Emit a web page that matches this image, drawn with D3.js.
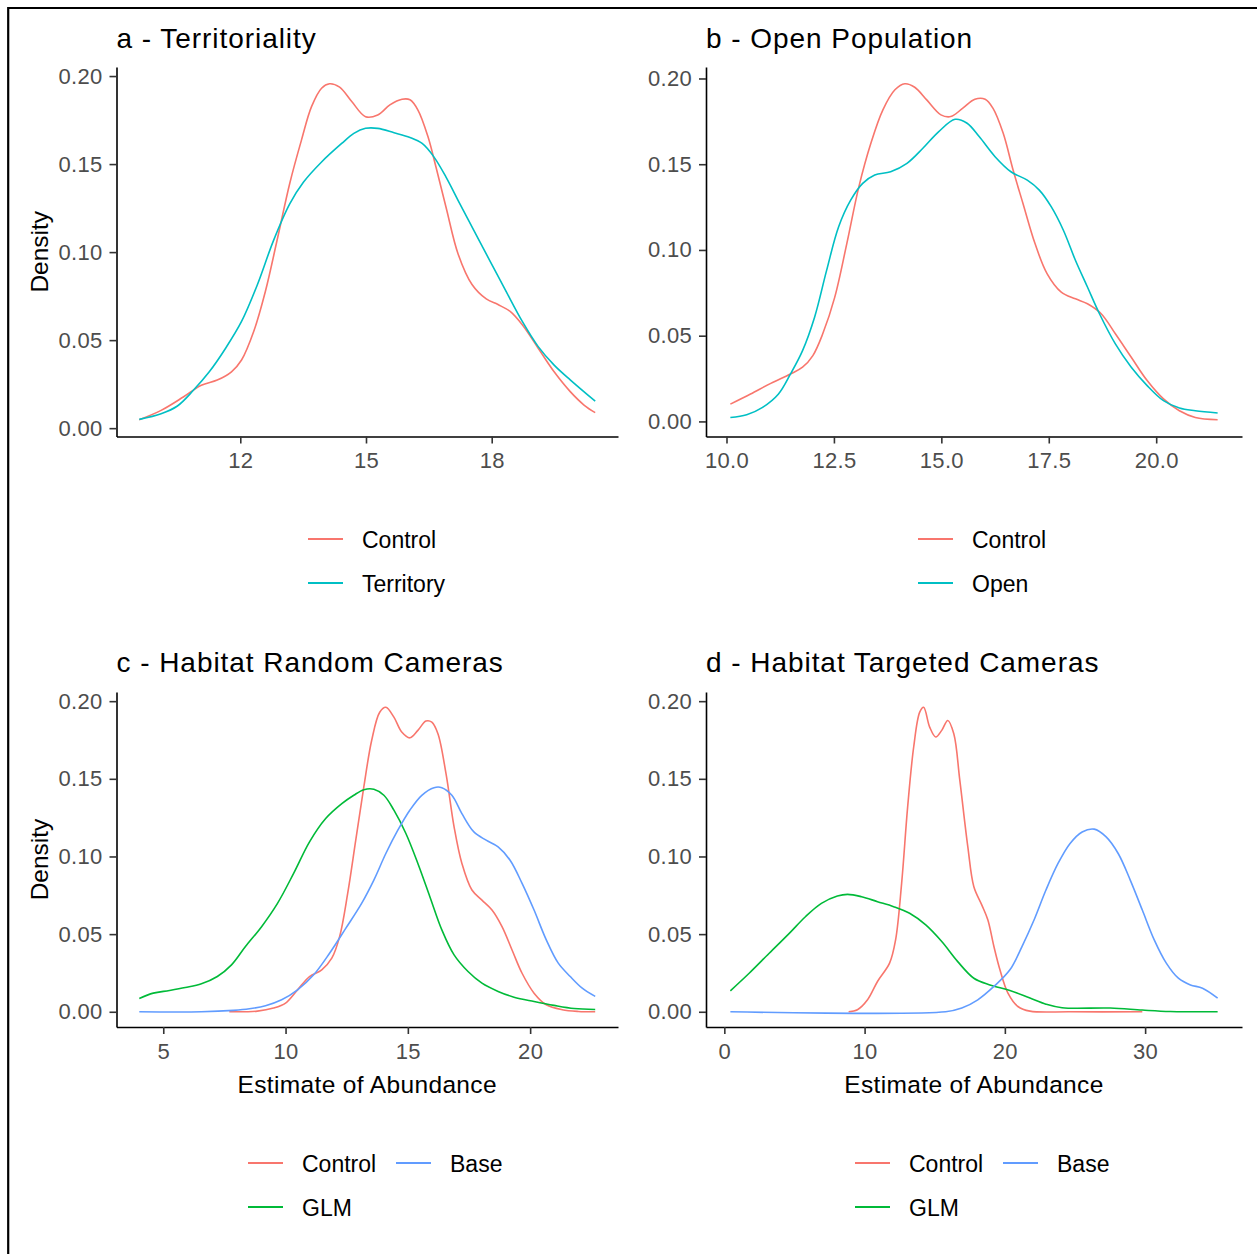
<!DOCTYPE html>
<html>
<head>
<meta charset="utf-8">
<script src="https://cdn.jsdelivr.net/npm/d3@7"></script>
<style>
  body { margin: 0; background: #fff; }
  svg text { font-family: "Liberation Sans", Arial, sans-serif; }
</style>
</head>
<body>
<svg id="chart" width="1257" height="1254"></svg>
<script>

// ---- data: [estimate, density] ----

// a - Territoriality
var terrControl = [[9.59,0.0048],[10.11,0.0101],[10.64,0.0177],[11.07,0.0244],[11.45,0.0273],[11.79,0.032],[12.03,0.0387],
  [12.32,0.0549],[12.6,0.0778],[12.89,0.108],[13.18,0.139],[13.46,0.1636],[13.7,0.1826],[13.94,0.1931],[14.13,0.1956],
  [14.37,0.1937],[14.66,0.1855],[14.99,0.1769],[15.28,0.1779],[15.57,0.1836],[15.86,0.1868],[16.05,0.1865],[16.24,0.1807],
  [16.48,0.1655],[16.67,0.1483],[16.91,0.1255],[17.2,0.0988],[17.53,0.0816],[17.87,0.0734],[18.15,0.0702],[18.44,0.0663],
  [18.73,0.0587],[19.11,0.0454],[19.49,0.032],[19.88,0.0206],[20.21,0.013],[20.47,0.0088]];
var terrTerritory = [[9.59,0.005],[10.11,0.0082],[10.5,0.0126],[10.88,0.0215],[11.26,0.032],[11.65,0.0454],[12.03,0.0606],
  [12.41,0.0816],[12.79,0.1064],[13.18,0.1274],[13.51,0.1398],[13.94,0.1512],[14.42,0.1617],[14.71,0.1674],[14.99,0.1703],
  [15.28,0.1703],[15.67,0.1678],[16.05,0.1651],[16.34,0.1617],[16.62,0.1541],[16.91,0.1426],[17.2,0.1293],[17.58,0.1121],
  [17.96,0.0949],[18.34,0.0778],[18.73,0.0606],[19.11,0.0463],[19.49,0.0358],[19.88,0.0273],[20.47,0.0153]];

// b - Open Population
var openControl = [[10.09,0.0101],[10.56,0.016],[11.03,0.0222],[11.49,0.0277],[11.77,0.0316],[12.01,0.0384],[12.24,0.0511],
  [12.52,0.0725],[12.8,0.1037],[13.08,0.1368],[13.36,0.1622],[13.64,0.1817],[13.92,0.1934],[14.15,0.1969],[14.38,0.1949],
  [14.66,0.1875],[14.99,0.1788],[15.22,0.1778],[15.5,0.1827],[15.78,0.1879],[16.02,0.1879],[16.2,0.1827],[16.44,0.168],
  [16.67,0.1466],[16.9,0.1271],[17.18,0.1037],[17.46,0.0862],[17.79,0.0754],[18.12,0.0715],[18.4,0.0686],[18.72,0.0628],
  [19.05,0.0511],[19.42,0.0374],[19.79,0.0238],[20.17,0.0131],[20.54,0.0062],[20.91,0.0023],[21.43,0.001]];
var openOpen = [[10.09,0.0023],[10.47,0.0039],[10.84,0.0082],[11.21,0.016],[11.49,0.0277],[11.77,0.0413],[12.05,0.0608],
  [12.33,0.0881],[12.61,0.1135],[12.89,0.129],[13.17,0.1388],[13.45,0.1437],[13.82,0.1456],[14.2,0.1505],[14.57,0.1593],
  [14.94,0.169],[15.32,0.1762],[15.6,0.1739],[15.88,0.1661],[16.25,0.1544],[16.62,0.1456],[17.0,0.1407],[17.28,0.1349],
  [17.56,0.1251],[17.84,0.1115],[18.12,0.094],[18.4,0.0784],[18.68,0.0628],[19.05,0.0452],[19.42,0.0316],[19.79,0.0209],
  [20.17,0.0121],[20.54,0.0078],[20.91,0.0062],[21.43,0.0049]];

// c - Habitat Random Cameras
var randControl = [[7.7,0],[8.85,0.0004],[9.51,0.0024],[10.0,0.0056],[10.49,0.0141],[10.98,0.0227],[11.48,0.027],[11.89,0.0345],
  [12.21,0.0484],[12.54,0.0762],[12.87,0.1105],[13.2,0.1448],[13.52,0.1747],[13.85,0.1929],[14.1,0.1961],[14.43,0.1897],
  [14.75,0.1801],[15.08,0.1764],[15.41,0.1812],[15.74,0.1872],[15.98,0.1865],[16.23,0.179],[16.56,0.1533],[16.89,0.1191],
  [17.21,0.0955],[17.62,0.0784],[18.03,0.0719],[18.44,0.0655],[18.85,0.0548],[19.26,0.0398],[19.67,0.0248],[20.16,0.012],
  [20.66,0.0045],[21.31,0.0013],[21.97,0.0002],[22.66,0]];
var randGLM = [[4.02,0.0086],[4.59,0.012],[5.25,0.0137],[5.9,0.0156],[6.56,0.018],[7.21,0.0227],[7.79,0.0302],[8.36,0.042],
  [9.02,0.0548],[9.67,0.0698],[10.33,0.0891],[10.98,0.1094],[11.64,0.1244],[12.3,0.134],[12.79,0.1394],[13.2,0.143],
  [13.61,0.1433],[14.02,0.1394],[14.43,0.1298],[14.92,0.1148],[15.41,0.0955],[15.9,0.0741],[16.39,0.0527],[16.89,0.0366],
  [17.46,0.0259],[18.03,0.0184],[18.69,0.0131],[19.34,0.0094],[20.16,0.0066],[20.98,0.0041],[21.8,0.0021],[22.66,0.0015]];
var randBase = [[4.02,0],[6.56,0],[7.87,0.0009],[8.52,0.0019],[9.18,0.0039],[9.84,0.0077],[10.49,0.0141],[11.15,0.0238],
  [11.8,0.0377],[12.46,0.0537],[13.11,0.0698],[13.61,0.0848],[14.1,0.1019],[14.59,0.1169],[15.08,0.1298],[15.57,0.1394],
  [16.07,0.1443],[16.39,0.1443],[16.8,0.1394],[17.21,0.1276],[17.7,0.1158],[18.2,0.1105],[18.69,0.1062],[19.18,0.0976],
  [19.67,0.0827],[20.16,0.0655],[20.66,0.0463],[21.15,0.0313],[21.64,0.0227],[22.13,0.0152],[22.66,0.0099]];

// d - Habitat Targeted Cameras
var targControl = [[8.86,0],[9.49,0.0013],[10.21,0.0077],[10.92,0.0195],[11.78,0.0313],[12.21,0.0463],[12.64,0.0827],
  [13.07,0.1319],[13.5,0.1705],[13.93,0.1929],[14.21,0.1961],[14.64,0.1833],[15.07,0.1769],[15.5,0.1812],[15.93,0.1876],
  [16.36,0.179],[16.79,0.149],[17.36,0.1062],[17.79,0.0805],[18.36,0.0687],[18.79,0.0591],[19.22,0.042],[19.65,0.027],
  [20.22,0.012],[20.93,0.0034],[21.79,0.0004],[24.65,0],[29.8,0]];
var targGLM = [[0.43,0.0135],[1.77,0.0248],[3.2,0.0377],[4.63,0.0505],[5.78,0.0612],[6.92,0.0698],[8.06,0.0745],[8.78,0.0756],
  [9.78,0.0741],[10.92,0.0709],[12.07,0.0677],[13.21,0.0634],[14.36,0.0559],[15.5,0.0452],[16.64,0.0323],[17.79,0.0216],
  [18.93,0.0173],[20.36,0.0137],[21.79,0.0088],[22.93,0.0049],[24.08,0.0026],[27.51,0.0024],[29.8,0.0011],[31.8,0.0002],[35.17,0]];
var targBase = [[0.43,0],[15.78,0],[16.93,0.0024],[18.07,0.0077],[19.22,0.0163],[20.36,0.027],[21.22,0.042],[22.08,0.0591],
  [22.93,0.0784],[23.79,0.0955],[24.65,0.1084],[25.51,0.1158],[26.37,0.1176],[27.22,0.1126],[28.08,0.1019],[28.94,0.0848],
  [29.8,0.0655],[30.65,0.0463],[31.51,0.0313],[32.37,0.0216],[33.23,0.0173],[34.09,0.0152],[35.17,0.0088]];

// ---- ticks ----
var yTicks = [0, 0.05, 0.10, 0.15, 0.20];
var xTicksA = [12, 15, 18];
var xTicksB = [10, 12.5, 15, 17.5, 20];
var xTicksC = [5, 10, 15, 20];
var xTicksD = [0, 10, 20, 30];

var colControl = "#F8766D", colSecond = "#00BFC4", colGLM = "#00BA38", colBase = "#619CFF";

var panels = [
  { title: "a - Territoriality", box: [116.5, 618, 67, 436.5], xTicks: xTicksA, xFmt: d3.format("d"),
    yTitle: true, xTitle: false, legend: [308, 539],
    series: [{ name: "Control", color: colControl, data: terrControl },
             { name: "Territory", color: colSecond, data: terrTerritory }] },
  { title: "b - Open Population", box: [706, 1242, 67, 436.5], xTicks: xTicksB, xFmt: d3.format(".1f"),
    yTitle: false, xTitle: false, legend: [918, 539],
    series: [{ name: "Control", color: colControl, data: openControl },
             { name: "Open", color: colSecond, data: openOpen }] },
  { title: "c - Habitat Random Cameras", box: [116.5, 618, 692, 1027], xTicks: xTicksC, xFmt: d3.format("d"),
    yTitle: true, xTitle: true, legend: [248, 1163],
    series: [{ name: "Control", color: colControl, data: randControl },
             { name: "GLM", color: colGLM, data: randGLM },
             { name: "Base", color: colBase, data: randBase }] },
  { title: "d - Habitat Targeted Cameras", box: [706, 1242, 692, 1027], xTicks: xTicksD, xFmt: d3.format("d"),
    yTitle: false, xTitle: true, legend: [855, 1163],
    series: [{ name: "Control", color: colControl, data: targControl },
             { name: "GLM", color: colGLM, data: targGLM },
             { name: "Base", color: colBase, data: targBase }] }
];

var svg = d3.select("#chart");

// outer frame (top and left edges only are visible)
svg.append("line").attr("x1", 8).attr("x2", 1257).attr("y1", 8).attr("y2", 8)
  .attr("stroke", "#000").attr("stroke-width", 2.2);
svg.append("line").attr("x1", 8.2).attr("x2", 8.2).attr("y1", 7).attr("y2", 1254)
  .attr("stroke", "#000").attr("stroke-width", 2.2);

// ggplot-like 5% expansion
function expand(ext) {
  var pad = (ext[1] - ext[0]) * 0.05;
  return [ext[0] - pad, ext[1] + pad];
}

panels.forEach(function(p) {
  var left = p.box[0], right = p.box[1], top = p.box[2], bottom = p.box[3];
  var all = [];
  p.series.forEach(function(s) { all = all.concat(s.data); });

  var x = d3.scaleLinear().domain(expand(d3.extent(all, function(d) { return d[0]; }))).range([left, right]);
  var y = d3.scaleLinear().domain(expand(d3.extent(all, function(d) { return d[1]; }))).range([bottom, top]);

  var g = svg.append("g");

  // title
  g.append("text").attr("x", left).attr("y", p.box[2] < 100 ? 48 : 672)
    .style("font-size", "28px").style("letter-spacing", "0.95px").attr("fill", "#000")
    .text(p.title);

  // curves
  var line = d3.line()
    .x(function(d) { return x(d[0]); })
    .y(function(d) { return y(d[1]); })
    .curve(d3.curveCatmullRom.alpha(0.5));

  p.series.forEach(function(s) {
    g.append("path").attr("d", line(s.data))
      .attr("fill", "none").attr("stroke", s.color).attr("stroke-width", 1.6);
  });

  // axes
  var yAxis = d3.axisLeft(y).tickValues(yTicks).tickFormat(d3.format(".2f"))
    .tickSize(7).tickSizeOuter(0).tickPadding(7);
  var xAxis = d3.axisBottom(x).tickValues(p.xTicks).tickFormat(p.xFmt)
    .tickSize(7).tickSizeOuter(0).tickPadding(9);

  var ya = g.append("g").attr("transform", "translate(" + left + ",0)").call(yAxis);
  var xa = g.append("g").attr("transform", "translate(0," + bottom + ")").call(xAxis);

  [ya, xa].forEach(function(ax) {
    ax.attr("font-family", null).attr("font-size", null);
    ax.select(".domain").attr("stroke", "#000").attr("stroke-width", 1.6);
    ax.selectAll(".tick line").attr("stroke", "#333").attr("stroke-width", 1.6);
    ax.selectAll(".tick text").attr("fill", "#4D4D4D")
      .style("font-size", "22px").style("letter-spacing", "0.3px");
  });

  if (p.yTitle) {
    g.append("text")
      .attr("transform", "translate(48," + ((top + bottom) / 2) + ") rotate(-90)")
      .attr("text-anchor", "middle")
      .style("font-size", "24.5px").attr("fill", "#000")
      .text("Density");
  }
  if (p.xTitle) {
    g.append("text")
      .attr("x", (left + right) / 2).attr("y", bottom + 66)
      .attr("text-anchor", "middle")
      .style("font-size", "24.5px").style("letter-spacing", "0.35px").attr("fill", "#000")
      .text("Estimate of Abundance");
  }

  // legend: two rows, filled column by column
  var lx = p.legend[0], ly = p.legend[1];
  p.series.forEach(function(s, i) {
    var col = Math.floor(i / 2), row = i % 2;
    var kx = lx + col * 148, ky = ly + row * 44;
    g.append("line").attr("x1", kx).attr("x2", kx + 35).attr("y1", ky).attr("y2", ky)
      .attr("stroke", s.color).attr("stroke-width", 2);
    g.append("text").attr("x", kx + 54).attr("y", ky + 9)
      .style("font-size", "23px").attr("fill", "#000")
      .text(s.name);
  });
});

</script>
</body>
</html>
